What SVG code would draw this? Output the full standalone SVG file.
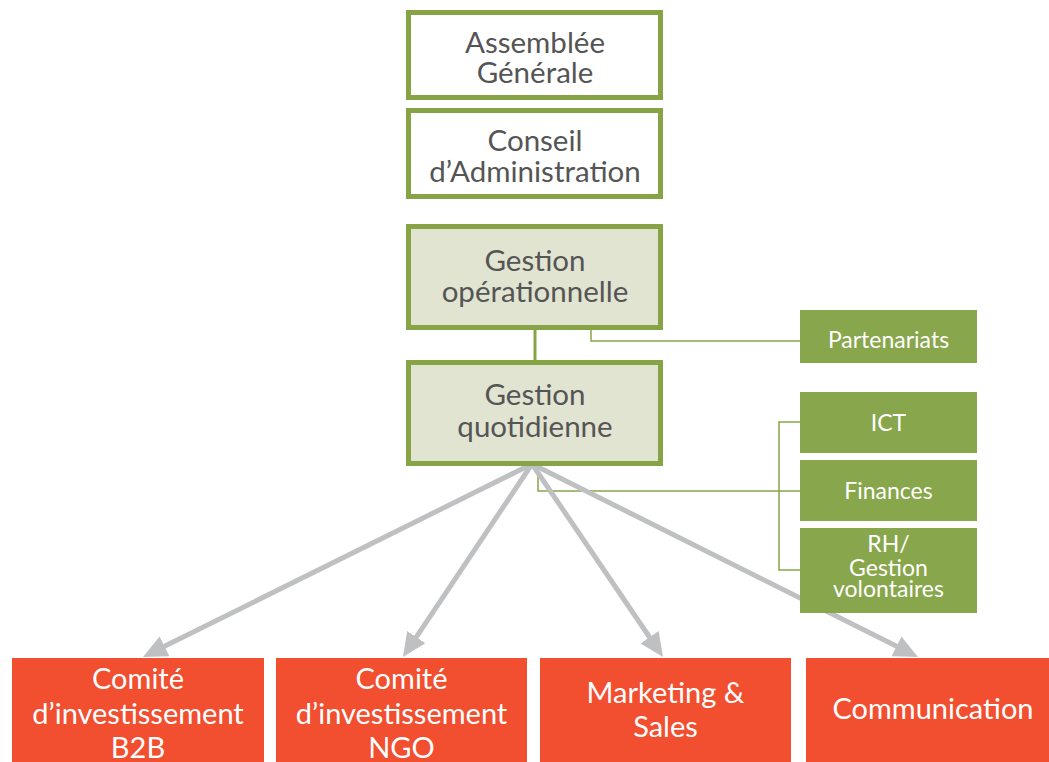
<svg xmlns="http://www.w3.org/2000/svg" width="1049" height="762" viewBox="0 0 1049 762">
<style>
.gov{fill:#ffffff;stroke:#86a346;stroke-width:5}
.mgmt{fill:#e2e4d2;stroke:#86a346;stroke-width:5}
.dept{fill:#88a64b}
.com{fill:#f24e30}
.dark{font-family:Lato,"Open Sans","Liberation Sans",sans-serif;font-size:29.5px;fill:#555555;text-anchor:middle}
.wg{font-family:Lato,"Open Sans","Liberation Sans",sans-serif;font-size:23px;fill:#ffffff;text-anchor:middle}
.wo{font-family:Lato,"Open Sans","Liberation Sans",sans-serif;font-size:29px;fill:#ffffff;text-anchor:middle}
.thin{fill:none;stroke:#88a64b;stroke-width:1.5}
.arrow{stroke:#bfc0c2;stroke-width:5;fill:none;marker-end:url(#ah)}
</style>
<defs>
<marker id="ah" markerUnits="userSpaceOnUse" markerWidth="24" markerHeight="22" viewBox="0 0 24 22" refX="4" refY="11" orient="auto">
<path d="M0,0 L24,11 L0,22 z" fill="#bfc0c2"/>
</marker>
</defs>
<g id="connectors">
<line x1="535" y1="330" x2="535" y2="360" stroke="#86a346" stroke-width="3"/>
<polyline class="thin" points="591,330 591,341 800,341"/>
<polyline class="thin" points="538,466 538,491 800,491"/>
<polyline class="thin" points="800,422 779,422 779,570 800,570"/>
<line class="arrow" x1="532" y1="464" x2="160.9" y2="648.1"/>
<line class="arrow" x1="532" y1="464" x2="414.1" y2="640.4"/>
<line class="arrow" x1="532" y1="464" x2="651.8" y2="640.5"/>
<line class="arrow" x1="532" y1="464" x2="900.1" y2="648.1"/>
</g>
<g id="assemblee">
<rect class="gov" x="408.5" y="12.5" width="252" height="85"/>
<text class="dark" x="535" y="53">Assemblée</text>
<text class="dark" x="535" y="83">Générale</text>
</g>
<g id="conseil">
<rect class="gov" x="408.5" y="110.5" width="252" height="86"/>
<text class="dark" x="535" y="151">Conseil</text>
<text class="dark" x="535" y="182">d’Administration</text>
</g>
<g id="gestion-op">
<rect class="mgmt" x="408.5" y="226.5" width="252" height="101"/>
<text class="dark" x="535" y="271">Gestion</text>
<text class="dark" x="535" y="302">opérationnelle</text>
</g>
<g id="gestion-quot">
<rect class="mgmt" x="408.5" y="362.5" width="252" height="101"/>
<text class="dark" x="535" y="405">Gestion</text>
<text class="dark" x="535" y="437">quotidienne</text>
</g>
<g id="partenariats">
<rect class="dept" x="800" y="310" width="177" height="53"/>
<text class="wg" x="888.5" y="348">Partenariats</text>
</g>
<g id="ict">
<rect class="dept" x="800" y="392" width="177" height="61"/>
<text class="wg" x="888.5" y="431">ICT</text>
</g>
<g id="finances">
<rect class="dept" x="800" y="460" width="177" height="61"/>
<text class="wg" x="888.5" y="499">Finances</text>
</g>
<g id="rh">
<rect class="dept" x="800" y="528" width="177" height="85"/>
<text class="wg" x="888.5" y="552">RH/</text>
<text class="wg" x="888.5" y="576">Gestion</text>
<text class="wg" x="888.5" y="597">volontaires</text>
</g>
<g id="b2b">
<rect class="com" x="12" y="658" width="252" height="104"/>
<text class="wo" x="138" y="689">Comité</text>
<text class="wo" x="138" y="724">d’investissement</text>
<text class="wo" x="138" y="758">B2B</text>
</g>
<g id="ngo">
<rect class="com" x="276" y="658" width="251" height="104"/>
<text class="wo" x="401.5" y="689">Comité</text>
<text class="wo" x="401.5" y="724">d’investissement</text>
<text class="wo" x="401.5" y="758">NGO</text>
</g>
<g id="marketing">
<rect class="com" x="540" y="658" width="251" height="104"/>
<text class="wo" x="665.5" y="703">Marketing &amp;</text>
<text class="wo" x="665.5" y="737">Sales</text>
</g>
<g id="communication">
<rect class="com" x="806" y="658" width="243" height="104"/>
<text class="wo" x="933" y="719">Communication</text>
</g>
</svg>
